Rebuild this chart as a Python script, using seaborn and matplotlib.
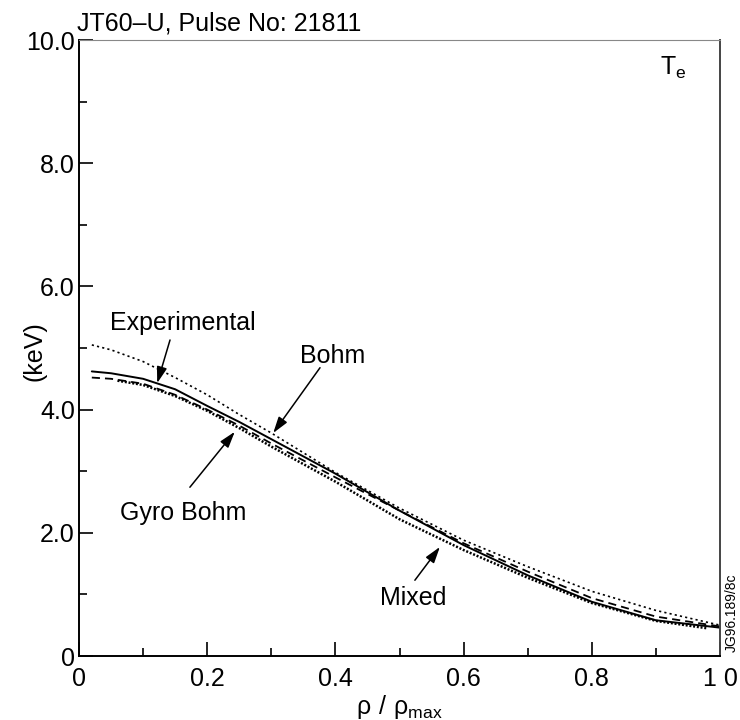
import matplotlib
matplotlib.use("Agg")
import matplotlib.pyplot as plt
import seaborn as sns

# Electron temperature profiles, JT60-U pulse 21811
rho_exp = [0.02, 0.05, 0.1, 0.15, 0.2, 0.25, 0.3, 0.4, 0.5, 0.6, 0.7, 0.8, 0.9, 1.0]
te_exp = [4.62, 4.59, 4.50, 4.33, 4.06, 3.80, 3.52, 2.96, 2.36, 1.80, 1.31, 0.88, 0.58, 0.46]

rho_bohm = [0.02, 0.05, 0.1, 0.15, 0.2, 0.25, 0.3, 0.4, 0.5, 0.6, 0.7, 0.8, 0.9, 1.0]
te_bohm = [5.05, 4.97, 4.78, 4.52, 4.24, 3.92, 3.62, 2.98, 2.40, 1.88, 1.45, 1.05, 0.74, 0.50]

rho_gyro = [0.02, 0.05, 0.1, 0.15, 0.2, 0.25, 0.3, 0.4, 0.5, 0.6, 0.7, 0.8, 0.9, 1.0]
te_gyro = [4.52, 4.50, 4.42, 4.24, 4.00, 3.74, 3.45, 2.90, 2.36, 1.83, 1.37, 0.94, 0.64, 0.48]

rho_mixed = [0.06, 0.1, 0.15, 0.2, 0.25, 0.3, 0.4, 0.5, 0.6, 0.7, 0.8, 0.9, 0.98]
te_mixed = [4.47, 4.40, 4.22, 3.98, 3.70, 3.40, 2.83, 2.22, 1.72, 1.27, 0.86, 0.57, 0.45]

x_major = [0, 0.2, 0.4, 0.6, 0.8, 1.0]
x_major_labels = ["0", "0.2", "0.4", "0.6", "0.8", "1 0"]
x_minor = [0.1, 0.3, 0.5, 0.7, 0.9]
y_major = [0, 2, 4, 6, 8, 10]
y_major_labels = ["0", "2.0", "4.0", "6.0", "8.0", "10.0"]
y_minor = [1, 3, 5, 7, 9]

sns.set_theme(style="ticks")
plt.rcParams["font.family"] = ["Liberation Sans", "DejaVu Sans"]
plt.rcParams["mathtext.fontset"] = "custom"
plt.rcParams["mathtext.rm"] = "Liberation Sans"

W, H = 740, 720
fig = plt.figure(figsize=(W / 100, H / 100), dpi=100)
fig.patch.set_facecolor("white")
ax = fig.add_axes([79 / W, 64 / H, 641 / W, 616 / H])
ax.set_facecolor("white")

sns.lineplot(x=rho_bohm, y=te_bohm, ax=ax, color="black", lw=1.2,
             linestyle=(0, (1.3, 1.9)), estimator=None, sort=False)
sns.lineplot(x=rho_gyro, y=te_gyro, ax=ax, color="black", lw=1.3,
             linestyle=(0, (4.5, 2.8)), estimator=None, sort=False)
sns.lineplot(x=rho_mixed, y=te_mixed, ax=ax, color="black", lw=1.8,
             linestyle=(0, (0.8, 0.7)), estimator=None, sort=False)
sns.lineplot(x=rho_exp, y=te_exp, ax=ax, color="black", lw=1.4,
             linestyle="-", estimator=None, sort=False)

ax.set_xlim(0, 1.0)
ax.set_ylim(0, 10.0)
ax.set_xticks(x_major)
ax.set_xticklabels(x_major_labels)
ax.set_xticks(x_minor, minor=True)
ax.set_yticks(y_major)
ax.set_yticklabels(y_major_labels)
ax.set_yticks(y_minor, minor=True)
ax.tick_params(axis="both", which="major", direction="in", length=10,
               width=1.2, color="black", labelsize=18, labelcolor="black")
ax.tick_params(axis="both", which="minor", direction="in", length=6,
               width=1.2, color="black")
ax.tick_params(axis="x", which="major", pad=8)
ax.tick_params(axis="y", which="major", pad=3)

for side in ["left", "bottom"]:
    ax.spines[side].set_color("black")
    ax.spines[side].set_linewidth(1.4)
ax.spines["right"].set_color("#444444")
ax.spines["right"].set_linewidth(1.4)
ax.spines["top"].set_color("#888888")
ax.spines["top"].set_linewidth(0.8)

ax.set_xlabel(r"$\mathregular{\rho\ /\ \rho_{max}}$", fontsize=18, color="black")
ax.xaxis.set_label_coords(0.5, -(693 - 656) / 616)
ax.set_ylabel("(keV)", fontsize=18, color="black")
ax.yaxis.set_label_coords(-(79 - 46) / 641, 0.495)

fig.text(77 / W, 1 - 30 / H, "JT60\u2013U, Pulse No: 21811", fontsize=18,
         color="black", ha="left", va="baseline")
ax.text(0.906, 9.43, r"$\mathregular{T_e}$", fontsize=18, color="black",
        ha="left", va="baseline")

labels = [
    ("Experimental", (0.162, 5.29), (0.142, 5.13), (0.122, 4.43)),
    ("Bohm", (0.395, 4.76), (0.376, 4.68), (0.303, 3.62)),
    ("Gyro Bohm", (0.162, 2.21), (0.173, 2.74), (0.243, 3.64)),
    ("Mixed", (0.521, 0.83), (0.524, 1.23), (0.563, 1.77)),
]
for name, pos, tail, tip in labels:
    ax.text(pos[0], pos[1], name, fontsize=18, color="black",
            ha="center", va="baseline")
    ax.annotate("", xy=tip, xytext=tail,
                arrowprops=dict(arrowstyle="-|>,head_length=0.7,head_width=0.22",
                                color="black", lw=1.1, shrinkA=0, shrinkB=0,
                                mutation_scale=14))

fig.text(732 / W, 1 - 613 / H, "JG96.189/8c", fontsize=10, color="black",
         rotation=90, ha="center", va="center")

fig.savefig("out.png", dpi=100, facecolor="white")
